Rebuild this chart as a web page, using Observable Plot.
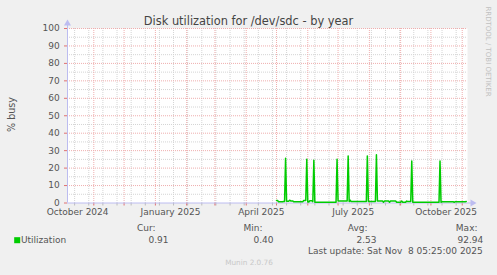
<!DOCTYPE html>
<html>
<head>
<meta charset="utf-8">
<script src="https://cdn.jsdelivr.net/npm/d3@7"></script>
<script src="https://cdn.jsdelivr.net/npm/@observablehq/plot@0.6"></script>
<style>
  html, body { margin: 0; padding: 0; background: #f0f0f0; }
  svg text { white-space: pre; }
</style>
</head>
<body>
<div id="chart"></div>
<script>
// ---- data ----
const dates = [
  "2025-05-01","2025-05-02","2025-05-03","2025-05-07","2025-05-08","2025-05-09","2025-05-10","2025-05-11",
  "2025-05-13","2025-05-14","2025-05-15","2025-05-17","2025-05-18","2025-05-27","2025-05-28","2025-05-30",
  "2025-05-31","2025-06-01","2025-06-02","2025-06-03","2025-06-05","2025-06-06","2025-06-07","2025-06-08",
  "2025-06-29","2025-06-30","2025-07-01","2025-07-10","2025-07-11","2025-07-12","2025-07-13","2025-07-14",
  "2025-07-29","2025-07-30","2025-07-31","2025-08-07","2025-08-08","2025-08-09","2025-08-14","2025-08-15",
  "2025-08-16","2025-08-20","2025-08-21","2025-08-22","2025-08-27","2025-08-28","2025-09-01","2025-09-02",
  "2025-09-03","2025-09-06","2025-09-07","2025-09-08","2025-09-11","2025-09-12","2025-09-13","2025-10-09",
  "2025-10-10","2025-10-11","2025-10-12","2025-10-23","2025-10-24","2025-10-25","2025-11-04","2025-11-05"
];
const values = [
  1.5, 1.5, 0.7, 0.7, 0.9, 0.9, 25.7, 1.0,
  1.0, 1.6, 1.2, 1.2, 0.7, 0.7, 1.4, 1.4,
  25.1, 0.6, 0.6, 1.3, 1.3, 0.8, 24.5, 0.45,
  0.45, 25.1, 1.2, 1.2, 27.0, 0.8, 1.6, 0.8,
  0.8, 27.0, 0.8, 0.8, 27.6, 1.1, 1.1, 0.45,
  1.1, 1.1, 0.45, 1.1, 1.1, 0.5, 0.5, 1.1,
  0.5, 0.5, 1.1, 0.8, 0.8, 24.1, 0.45, 0.45,
  24.1, 0.4, 0.75, 0.75, 0.4, 0.75, 0.75, 0.91
];
const yMajor = [0, 10, 20, 30, 40, 50, 60, 70, 80, 90, 100];
const yMinor = [5, 15, 25, 35, 45, 55, 65, 75, 85, 95];
const monthStarts = ["2024-11-01","2024-12-01","2025-01-01","2025-02-01","2025-03-01","2025-04-01","2025-05-01",
  "2025-06-01","2025-07-01","2025-08-01","2025-09-01","2025-10-01","2025-11-01"];
const labelDates = ["2024-10-16","2025-01-16","2025-04-16","2025-07-16","2025-10-16"];
const labelTexts = ["October 2024","January 2025","April 2025","July 2025","October 2025"];
const seriesName = "Utilization";
const statLabels = ["Cur:", "Min:", "Avg:", "Max:"];
const statValues = ["0.91", "0.40", "2.53", "92.94"];
const title = "Disk utilization for /dev/sdc - by year";
const yLabel = "% busy";
const lastUpdate = "Last update: Sat Nov\u00a0 8 05:25:00 2025";
const footer = "Munin 2.0.76";
const sideText = "RRDTOOL / TOBI OETIKER";

// ---- build ----
const series = dates.map((d, i) => ({date: new Date(d + "T00:00Z"), value: values[i]}));
const xStart = new Date("2024-10-05T22:30Z");
const xEnd = new Date("2025-11-06T05:30Z");
const majorX = monthStarts.map(d => new Date(d + "T00:00Z"));
const minorX = [];
for (let t = new Date("2024-10-13T00:00Z"); t < xEnd; t = d3.utcDay.offset(t, 14)) minorX.push(t);
const labels = labelDates.map((d, i) => ({date: new Date(d + "T00:00Z"), text: labelTexts[i]}));

const W = 497, H = 275, ML = 67, MR = 30, MT = 28, MB = 72.5;
const font = "DejaVu Sans";
const at = (px, py) => ({frameAnchor: "top-left", dx: px - ML, dy: py - MT, lineAnchor: "middle"});

const gridMinor = "#d4d4d4", gridMajor = "#efaeae", axisCol = "#bcbcf0", textCol = "#555";
const fs = 9;

const statX = [155, 262, 367, 477];
const valX = [168, 273, 376, 482.7];

const chart = Plot.plot({
  width: W, height: H,
  marginLeft: ML, marginRight: MR, marginTop: MT, marginBottom: MB,
  style: {background: "#f0f0f0", fontFamily: font, overflow: "visible"},
  x: {type: "utc", domain: [xStart, xEnd], axis: null},
  y: {domain: [0, 100], axis: null},
  marks: [
    Plot.frame({fill: "white", stroke: "none"}),
    Plot.ruleY(yMinor, {stroke: gridMinor, strokeDasharray: "1,1"}),
    Plot.ruleX(minorX, {stroke: gridMinor, strokeDasharray: "1,1"}),
    Plot.ruleY(yMajor.filter(v => v > 0), {stroke: gridMajor, strokeDasharray: "1,1"}),
    Plot.ruleX(majorX, {stroke: gridMajor, strokeDasharray: "1,1"}),
    // tick marks
    Plot.ruleX(minorX, {y1: 0, y2: 0, insetBottom: -3, stroke: "#bbbbbb"}),
    Plot.ruleX(majorX, {y1: 0, y2: 0, insetBottom: -3, stroke: "#e07070"}),
    Plot.ruleY(yMajor, {x1: xStart, x2: xStart, insetLeft: -3, stroke: "#e07070"}),
    // axis lines & arrows
    Plot.ruleY([0], {stroke: axisCol, insetRight: -4}),
    Plot.ruleX([xStart], {stroke: axisCol, insetTop: -4}),
    Plot.dot([0], {frameAnchor: "bottom-right", dx: 5, symbol: "triangle", rotate: 90, r: 2.6, fill: axisCol, stroke: "none"}),
    Plot.dot([0], {frameAnchor: "top-left", dy: -5, symbol: "triangle", r: 2.6, fill: axisCol, stroke: "none"}),
    // series
    Plot.line(series, {x: "date", y: "value", stroke: "#00cc00", strokeWidth: 1.5}),
    // tick labels
    Plot.text(yMajor, {y: d => d, text: d => String(d), frameAnchor: "left", dx: -7.7, textAnchor: "end", lineAnchor: "middle", fontSize: fs, fill: textCol}),
    Plot.text(labels, {x: "date", text: "text", frameAnchor: "bottom", dy: 9.6, lineAnchor: "middle", fontSize: fs, fill: textCol}),
    // title and labels
    Plot.text([title], {...at(248, 21), textAnchor: "middle", fontSize: 11.4, fill: "#444"}),
    Plot.text([yLabel], {...at(11.5, 114), rotate: -90, textAnchor: "middle", fontSize: 9.6, fill: textCol}),
    Plot.text([sideText], {...at(487.5, 51), rotate: 90, textAnchor: "middle", fontSize: 7, fill: "#c0c0c0"}),
    // legend
    Plot.dot([0], {...at(16.7, 239.7), symbol: "square", r: 3.4, fill: "#00cc00", stroke: "none"}),
    Plot.text([seriesName], {...at(20.5, 239.5), textAnchor: "start", fontSize: fs, fill: textCol}),
    ...statLabels.map((s, i) => Plot.text([s], {...at(statX[i], 227.5), textAnchor: "end", fontSize: fs, fill: textCol})),
    ...statValues.map((s, i) => Plot.text([s], {...at(valX[i], 239.5), textAnchor: "end", fontSize: fs, fill: textCol})),
    Plot.text([lastUpdate], {...at(482.3, 251), textAnchor: "end", fontSize: fs, fill: textCol}),
    Plot.text([footer], {...at(248.5, 262), textAnchor: "middle", fontSize: 7.3, fill: "#c8c8c8"})
  ]
});
document.getElementById("chart").appendChild(chart);
</script>
</body>
</html>
